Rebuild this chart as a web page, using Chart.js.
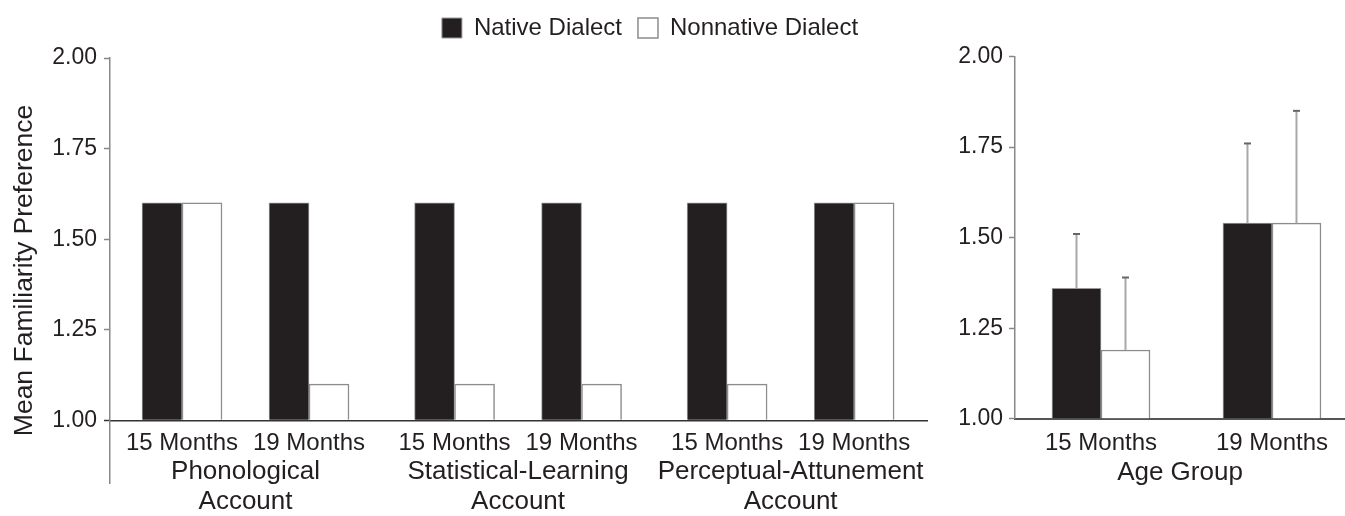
<!DOCTYPE html>
<html><head><meta charset="utf-8">
<script src="https://cdn.jsdelivr.net/npm/chart.js@4.4.1/dist/chart.umd.min.js"></script>
<style>
html,body{margin:0;padding:0;background:#fff;width:1345px;height:516px;overflow:hidden;}
#left{position:absolute;left:0;top:0;}
#right{position:absolute;left:930px;top:0;}
</style></head><body>
<canvas id="left" width="1300" height="516"></canvas>
<canvas id="right" width="415" height="516"></canvas>
<script>
// ---------- data ----------
const accounts = [['Phonological','Account'],['Statistical-Learning','Account'],['Perceptual-Attunement','Account']];
const ageGroups = ['15 Months','19 Months'];
const seriesNames = ['Native Dialect','Nonnative Dialect'];
// left panel: predicted preference, order = account x age group
const predictedNative    = [1.60, 1.60, 1.60, 1.60, 1.60, 1.60];
const predictedNonnative = [1.60, 1.10, 1.10, 1.10, 1.10, 1.60];
// right panel: observed means and upper error (SE)
const observedNative    = [1.36, 1.54];
const observedNonnative = [1.19, 1.54];
const errNative    = [0.15, 0.22];
const errNonnative = [0.20, 0.31];
const yTickValues = [1.00, 1.25, 1.50, 1.75, 2.00];

// ---------- style / layout ----------
const FONT = "'Liberation Sans', Arial, Helvetica, sans-serif";
const TXT = '#231f20';
const ACC_STEP = 2.146; // spacing between account groups (in age-group units)
Chart.defaults.font.family = FONT;
Chart.defaults.color = TXT;

const posLeft = [];
accounts.forEach((a, ai) => ageGroups.forEach((g, gi) => posLeft.push(ai * ACC_STEP + gi)));
const leftTicks = [];
accounts.forEach((a, ai) => {
  leftTicks.push({ value: ai * ACC_STEP, label: ageGroups[0], group: false });
  leftTicks.push({ value: ai * ACC_STEP + 0.5, label: [''].concat(a), group: true });
  leftTicks.push({ value: ai * ACC_STEP + 1, label: ageGroups[1], group: false });
});

const blackBar = { backgroundColor: '#231f20', borderColor: '#9a9a9a', borderWidth: 1 };
const whiteBar = { backgroundColor: '#ffffff', borderColor: '#8c8c8c', borderWidth: 1.5 };

new Chart(document.getElementById('left'), {
  type: 'bar',
  data: {
    datasets: [
      Object.assign({ label: seriesNames[0], data: posLeft.map((x, i) => ({ x, y: predictedNative[i] })), base: 1, barThickness: 40 }, blackBar),
      Object.assign({ label: seriesNames[1], data: posLeft.map((x, i) => ({ x, y: predictedNonnative[i] })), base: 1, barThickness: 40 }, whiteBar)
    ]
  },
  options: {
    responsive: false, animation: false, devicePixelRatio: 1,
    layout: { padding: { top: 0, bottom: 33, left: 0, right: 0 } },
    plugins: {
      tooltip: { enabled: false },
      legend: { display: true, position: 'top', align: 'center', weight: 3000,
        labels: { boxWidth: 20, boxHeight: 20, padding: 16, font: { size: 24 }, color: TXT } },
      subtitle: { display: true, text: '', font: { size: 8, lineHeight: 1 }, padding: 0 }
    },
    scales: {
      x: {
        type: 'linear', position: { y: 1 }, min: -0.567, max: 5.866, offset: false,
        grid: { drawOnChartArea: false, drawTicks: false, offset: false },
        border: { display: true, color: '#333333', width: 1.5 },
        afterBuildTicks: s => { s.ticks = leftTicks.map(t => ({ value: t.value })); },
        ticks: { autoSkip: false, maxRotation: 0, minRotation: 0, padding: 8,
          font: c => (leftTicks[c.index] && leftTicks[c.index].group)
            ? { size: 26, lineHeight: '29.3px' }
            : { size: 24, lineHeight: '29.3px' },
          color: TXT,
          callback: (v, i) => leftTicks[i].label }
      },
      y: {
        type: 'linear', position: 'left', min: 0.827, max: 2,
        afterBuildTicks: s => { s.ticks = yTickValues.map(v => ({ value: v })); },
        afterFit: s => { s.width = 110; },
        grid: { drawOnChartArea: false, drawTicks: true, tickLength: 6,
          tickColor: c => (c.tick && c.tick.value === 1) ? '#333333' : '#888888',
          tickWidth: 1.5 },
        border: { display: true, color: '#888888', width: 1.5 },
        ticks: { padding: 7, font: { size: 23 }, color: TXT, callback: v => Number(v).toFixed(2) },
        title: { display: true, text: 'Mean Familiarity Preference', font: { size: 26.5 }, color: TXT, padding: { top: 9, bottom: 0 } }
      },
      yR: {
        type: 'linear', position: 'right', display: true,
        grid: { display: false, drawTicks: false }, border: { display: false }, ticks: { display: false },
        afterFit: s => { s.width = 373; }
      }
    }
  }
});

const errorBars = {
  id: 'errorBars',
  afterDatasetsDraw(chart) {
    const ctx = chart.ctx, ys = chart.scales.y;
    [errNative, errNonnative].forEach((errs, di) => {
      const meta = chart.getDatasetMeta(di);
      meta.data.forEach((bar, i) => {
        const v = chart.data.datasets[di].data[i].y;
        const top = ys.getPixelForValue(v + errs[i]);
        ctx.save();
        ctx.lineWidth = 2;
        ctx.strokeStyle = '#a8a8a8';
        ctx.beginPath(); ctx.moveTo(bar.x, bar.y); ctx.lineTo(bar.x, top); ctx.stroke();
        ctx.strokeStyle = '#666666';
        ctx.beginPath(); ctx.moveTo(bar.x - 3.5, top); ctx.lineTo(bar.x + 3.5, top); ctx.stroke();
        ctx.restore();
      });
    });
  }
};

new Chart(document.getElementById('right'), {
  type: 'bar',
  data: {
    datasets: [
      Object.assign({ label: seriesNames[0], data: observedNative.map((y, i) => ({ x: i, y })), base: 1, barThickness: 49 }, blackBar),
      Object.assign({ label: seriesNames[1], data: observedNonnative.map((y, i) => ({ x: i, y })), base: 1, barThickness: 49 }, whiteBar)
    ]
  },
  options: {
    responsive: false, animation: false, devicePixelRatio: 1,
    layout: { padding: { top: 56.5, bottom: 27.4, left: 0, right: 0 } },
    plugins: { tooltip: { enabled: false }, legend: { display: false } },
    scales: {
      x: {
        type: 'linear', min: -0.503, max: 1.427, offset: false,
        grid: { drawOnChartArea: false, drawTicks: false, offset: false },
        border: { display: true, color: '#555555', width: 2 },
        afterBuildTicks: s => { s.ticks = ageGroups.map((g, i) => ({ value: i })); },
        ticks: { autoSkip: false, maxRotation: 0, minRotation: 0, padding: 10,
          font: { size: 24, lineHeight: 1.2 }, color: TXT, callback: (v, i) => ageGroups[i] },
        title: { display: true, text: 'Age Group', font: { size: 26, lineHeight: 1.2 }, color: TXT, padding: { top: -10.2, bottom: 0 } }
      },
      y: {
        type: 'linear', position: 'left', min: 1, max: 2,
        afterBuildTicks: s => { s.ticks = yTickValues.map(v => ({ value: v })); },
        afterFit: s => { s.width = 85; },
        grid: { drawOnChartArea: false, drawTicks: true, tickLength: 6, tickColor: '#888888', tickWidth: 1.5 },
        border: { display: true, color: '#888888', width: 1.5 },
        ticks: { padding: 6, font: { size: 23 }, color: TXT, callback: v => Number(v).toFixed(2) }
      }
    }
  },
  plugins: [errorBars]
});
</script>
</body></html>
